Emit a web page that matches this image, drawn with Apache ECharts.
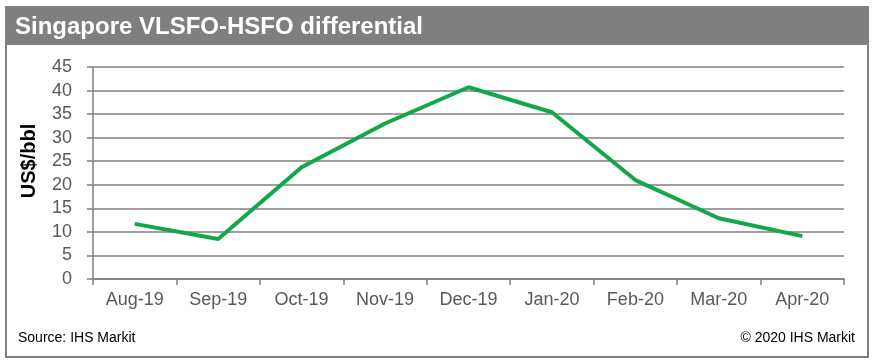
<!DOCTYPE html>
<html>
<head>
<meta charset="utf-8">
<script src="https://cdn.jsdelivr.net/npm/echarts@6/dist/echarts.min.js"></script>
<style>html,body{margin:0;padding:0;background:#fff;}#c{width:875px;height:364px;}</style>
</head>
<body>
<div id="c"></div>
<script>
const categories = ['Aug-19','Sep-19','Oct-19','Nov-19','Dec-19','Jan-20','Feb-20','Mar-20','Apr-20'];
const differential = [11.7, 8.5, 23.7, 33.0, 40.7, 35.4, 21.0, 12.9, 9.1];
const yTicks = {min: 0, max: 45, interval: 5};
const yAxisTitle = 'US$/bbl';

const chart = echarts.init(document.getElementById('c'));
chart.setOption({
  animation: false,
  backgroundColor: '#fff',
  title: [
    {text: 'Singapore VLSFO-HSFO differential', left: 15, top: 13,
     textStyle: {color: '#fff', fontFamily: 'Liberation Sans, Arial', fontWeight: 'bold', fontSize: 24, lineHeight: 28}, padding: 0},
    {text: 'Source: IHS Markit', left: 18, top: 330, padding: 0,
     textStyle: {color: '#000', fontFamily: 'Liberation Sans, Arial', fontWeight: 'normal', fontSize: 14, lineHeight: 16}},
    {text: '© 2020 IHS Markit', right: 20, top: 330, padding: 0,
     textStyle: {color: '#000', fontFamily: 'Liberation Sans, Arial', fontWeight: 'normal', fontSize: 14, lineHeight: 16}}
  ],
  graphic: [
    {type: 'rect', z: -10, shape: {x: 6, y: 7, width: 862, height: 350},
     style: {fill: '#fff', stroke: '#7f7f7f', lineWidth: 2}},
    {type: 'rect', z: -9, shape: {x: 6, y: 7, width: 862, height: 38},
     style: {fill: '#7f7f7f'}},
    {type: 'text', x: 29, y: 161, rotation: Math.PI / 2,
     style: {text: yAxisTitle, fill: '#000', font: 'bold 20px "Liberation Sans", Arial',
             textAlign: 'center', textVerticalAlign: 'middle'}}
  ],
  grid: {left: 93, right: 31, top: 67, bottom: 85},
  xAxis: {
    type: 'category', data: categories, boundaryGap: true,
    axisLine: {lineStyle: {color: '#7f7f7f', width: 1.5}},
    axisTick: {show: true, length: 6, lineStyle: {color: '#7f7f7f', width: 1.5}},
    axisLabel: {color: '#595959', fontFamily: 'Liberation Sans, Arial', fontSize: 18, margin: 12}
  },
  yAxis: {
    type: 'value', min: yTicks.min, max: yTicks.max, interval: yTicks.interval,
    axisLine: {show: true, lineStyle: {color: '#7f7f7f', width: 1.5}},
    axisTick: {show: true, length: 6, lineStyle: {color: '#7f7f7f', width: 1.5}},
    splitLine: {lineStyle: {color: '#7f7f7f', width: 1.5}},
    axisLabel: {color: '#595959', fontFamily: 'Liberation Sans, Arial', fontSize: 18, margin: 21}
  },
  series: [{
    type: 'line', data: differential, symbol: 'none',
    lineStyle: {color: '#12a84a', width: 4}
  }]
});
</script>
</body>
</html>
